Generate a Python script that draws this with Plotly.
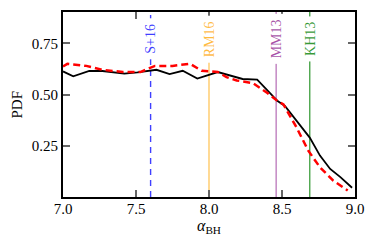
import plotly.graph_objects as go

# Black solid curve
alpha_black = [7.00, 7.07, 7.18, 7.27, 7.42, 7.51, 7.64, 7.73, 7.82, 7.92, 8.06,
               8.23, 8.33, 8.40, 8.47, 8.52, 8.62, 8.69, 8.76, 8.83, 8.90, 8.98]
pdf_black = [0.613, 0.589, 0.616, 0.615, 0.602, 0.608, 0.621, 0.600, 0.616, 0.578, 0.610,
             0.576, 0.573, 0.521, 0.468, 0.444, 0.355, 0.290, 0.202, 0.137, 0.097, 0.045]

# Red dashed curve
alpha_red = [7.00, 7.03, 7.16, 7.27, 7.41, 7.53, 7.63, 7.75, 7.87, 7.95, 8.06,
             8.12, 8.19, 8.30, 8.40, 8.47, 8.51, 8.60, 8.68, 8.76, 8.85, 8.95]
pdf_red = [0.637, 0.650, 0.640, 0.621, 0.610, 0.610, 0.640, 0.640, 0.650, 0.616, 0.610,
           0.585, 0.569, 0.556, 0.508, 0.468, 0.452, 0.339, 0.226, 0.145, 0.081, 0.032]

# Reference values
ref_names = ["S+16", "RM16", "MM13", "KH13"]
ref_values = [7.60, 8.00, 8.46, 8.69]
ref_line_colors = ["rgba(0,0,255,0.75)", "rgba(255,165,0,0.6)", "rgba(128,0,128,0.5)", "rgba(0,128,0,0.7)"]
ref_text_colors = ["rgba(0,0,255,0.75)", "rgba(255,165,0,0.75)", "rgba(128,0,128,0.7)", "rgba(0,128,0,0.8)"]
ref_dash = ["6px,5px", "solid", "solid", "solid"]

x_ticks = [7.0, 7.5, 8.0, 8.5, 9.0]
x_ticktext = ["7.0", "7.5", "8.0", "8.5", "9.0"]
y_ticks = [0.25, 0.50, 0.75]
y_ticktext = ["0.25", "0.50", "0.75"]

FONT = "Liberation Serif"

fig = go.Figure()

for name, v, lc, d in zip(ref_names, ref_values, ref_line_colors, ref_dash):
    fig.add_shape(type="line", xref="x", yref="paper", x0=v, x1=v, y0=0, y1=1,
                  line=dict(color=lc, width=1.4, dash=d), layer="below")

fig.add_trace(go.Scatter(x=alpha_black, y=pdf_black, mode="lines",
                         line=dict(color="black", width=1.8), showlegend=False))
fig.add_trace(go.Scatter(x=alpha_red, y=pdf_red, mode="lines",
                         line=dict(color="red", width=2.5, dash="7px,4px"), showlegend=False))

for name, v, tc in zip(ref_names, ref_values, ref_text_colors):
    fig.add_annotation(x=v, xref="x", y=0.853, yref="paper", text=name, textangle=-90,
                       showarrow=False, font=dict(family=FONT, size=14, color=tc),
                       bgcolor="white", borderpad=5, xanchor="center", yanchor="middle")

fig.add_annotation(x=0, xref="paper", y=0.5, yref="paper", text="PDF", textangle=-90,
                   showarrow=False, xshift=-47, xanchor="center", yanchor="middle",
                   font=dict(family=FONT, size=15, color="black"))
fig.add_annotation(x=0.5, xref="paper", y=0, yref="paper", text="<i>α</i><sub>BH</sub>",
                   showarrow=False, yshift=-29, xanchor="center", yanchor="middle",
                   font=dict(family=FONT, size=16, color="black"))

axis_common = dict(showline=True, linecolor="black", linewidth=2, mirror="ticks",
                   ticks="inside", ticklen=7, tickwidth=1.5, tickcolor="#666666",
                   showgrid=False, zeroline=False,
                   tickfont=dict(family=FONT, size=15, color="black"))

fig.update_xaxes(range=[7.0, 9.0], tickvals=x_ticks, ticktext=x_ticktext,
                 ticklabelstandoff=-3, **axis_common)
fig.update_yaxes(range=[0.0, 0.903], tickvals=y_ticks, ticktext=y_ticktext, **axis_common)

fig.update_layout(width=367, height=239, margin=dict(l=55, r=20, t=2, b=50),
                  plot_bgcolor="white", paper_bgcolor="white",
                  font=dict(family=FONT, size=14))

fig.write_html("out.html")
